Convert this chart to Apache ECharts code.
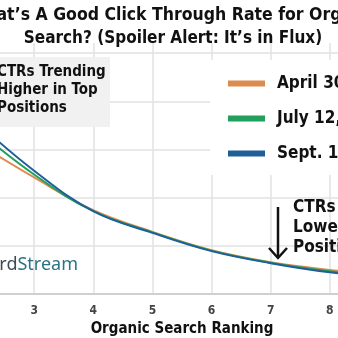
<!DOCTYPE html>
<html>
<head>
<meta charset="utf-8">
<script src="https://cdn.jsdelivr.net/npm/echarts@6/dist/echarts.min.js"></script>
<style>
html,body{margin:0;padding:0;background:#fff;}
#chart{width:338px;height:338px;}
</style>
</head>
<body>
<div id="chart"></div>
<script>
// Organic search ranking positions
const ranks = [2, 3, 4, 5, 6, 7, 8, 9];
// CTR (%) per ranking
const april30 = [15.8, 12.1, 8.7, 6.45, 4.55, 3.3, 2.5, 1.9];
const july12 = [17.2, 12.4, 8.6, 6.4, 4.5, 3.25, 2.35, 1.75];
const sept19 = [18.0, 12.8, 8.6, 6.35, 4.45, 3.2, 2.25, 1.65];
const seriesNames = ['April 30, 2018', 'July 12, 2018', 'Sept. 19, 2018'];
const colors = ['#dd8c50', '#20a05c', '#1f5f99'];
const titleLines = ['What\u2019s A Good Click Through Rate for Organic', 'Search? (Spoiler Alert: It\u2019s in Flux)'];
const noteTop = ['CTRs Trending', 'Higher in Top', 'Positions'];
const noteBottom = ['CTRs Trending', 'Lower in Lower', 'Positions'];
const xTitle = 'Organic Search Ranking';

const FONT = '"Liberation Sans Narrow", "DejaVu Sans Condensed", sans-serif';
const pairs = arr => ranks.map((r, i) => [r, arr[i]]);

const chart = echarts.init(document.getElementById('chart'));
chart.setOption({
  backgroundColor: '#fff',
  animation: false,
  grid: { left: -25, right: -51, top: 5, bottom: 44, outerBoundsMode: 'none', containLabel: false },
  xAxis: {
    type: 'value', min: 2, max: 9, interval: 1,
    name: xTitle, nameLocation: 'middle', nameGap: 28,
    nameTextStyle: { fontFamily: FONT, fontWeight: 'bold', fontSize: 15, color: '#111' },
    axisLine: { lineStyle: { color: '#d0d0d0', width: 2 } },
    axisTick: { show: false },
    axisLabel: { fontFamily: FONT, fontWeight: 'bold', fontSize: 12, color: '#444', margin: 11 },
    splitLine: { lineStyle: { color: '#e2e2e2', width: 1.5 } }
  },
  yAxis: {
    type: 'value', min: 0, max: 30, interval: 5,
    axisLine: { show: false }, axisTick: { show: false }, axisLabel: { show: false },
    splitLine: { lineStyle: { color: '#e2e2e2', width: 1.5 } }
  },
  legend: {
    orient: 'vertical', left: 210, top: 60,
    backgroundColor: '#fff',
    padding: [15, 10, 13, 18],
    itemGap: 18, itemWidth: 37, itemHeight: 6,
    icon: 'rect',
    textStyle: { fontFamily: FONT, fontWeight: 'bold', fontSize: 17, color: '#111', lineHeight: 16, padding: [0, 0, 0, 7] },
    data: seriesNames
  },
  series: [
    { name: seriesNames[0], type: 'line', data: pairs(april30), smooth: 0.4, showSymbol: false, lineStyle: { width: 2, color: colors[0] }, itemStyle: { color: colors[0] } },
    { name: seriesNames[1], type: 'line', data: pairs(july12), smooth: 0.4, showSymbol: false, lineStyle: { width: 2, color: colors[1] }, itemStyle: { color: colors[1] } },
    { name: seriesNames[2], type: 'line', data: pairs(sept19), smooth: 0.4, showSymbol: false, lineStyle: { width: 2, color: colors[2] }, itemStyle: { color: colors[2] } }
  ],
  graphic: [
    { type: 'rect', z: 100, shape: { x: 0, y: 0, width: 338, height: 43 }, style: { fill: '#fff' } },
    { type: 'text', z: 101, x: 173, y: 15, style: { text: titleLines[0], fontFamily: FONT, fontWeight: 'bold', fontSize: 17.5, fill: '#111', textAlign: 'center', textVerticalAlign: 'middle' } },
    { type: 'text', z: 101, x: 173, y: 39, style: { text: titleLines[1], fontFamily: FONT, fontWeight: 'bold', fontSize: 17, fill: '#111', textAlign: 'center', textVerticalAlign: 'middle' } },
    { type: 'rect', z: 100, shape: { x: -5, y: 57, width: 115, height: 70 }, style: { fill: '#f1f1f1' } },
    { type: 'text', z: 101, x: -3, y: 63, style: { text: noteTop.join('\n'), fontFamily: FONT, fontWeight: 'bold', fontSize: 15, lineHeight: 18, fill: '#111' } },
    { type: 'text', z: 101, x: 293, y: 198, style: { text: noteBottom.join('\n'), fontFamily: FONT, fontWeight: 'bold', fontSize: 17, lineHeight: 20, fill: '#111' } },
    { type: 'line', z: 101, shape: { x1: 278, y1: 207, x2: 278, y2: 257 }, style: { stroke: '#111', lineWidth: 2.5 } },
    { type: 'polyline', z: 101, shape: { points: [[269, 248], [278, 258], [287, 248]] }, style: { stroke: '#111', lineWidth: 2.5, fill: null } },
    { type: 'text', z: 101, x: 78, y: 265, style: { text: '{a|Word}{b|Stream}', rich: { a: { fill: '#3d4a52', fontFamily: '"Noto Sans", sans-serif', fontSize: 18 }, b: { fill: '#2b7384', fontFamily: '"Noto Sans", sans-serif', fontSize: 18 } }, textAlign: 'right', textVerticalAlign: 'middle' } }
  ]
});
</script>
</body>
</html>
